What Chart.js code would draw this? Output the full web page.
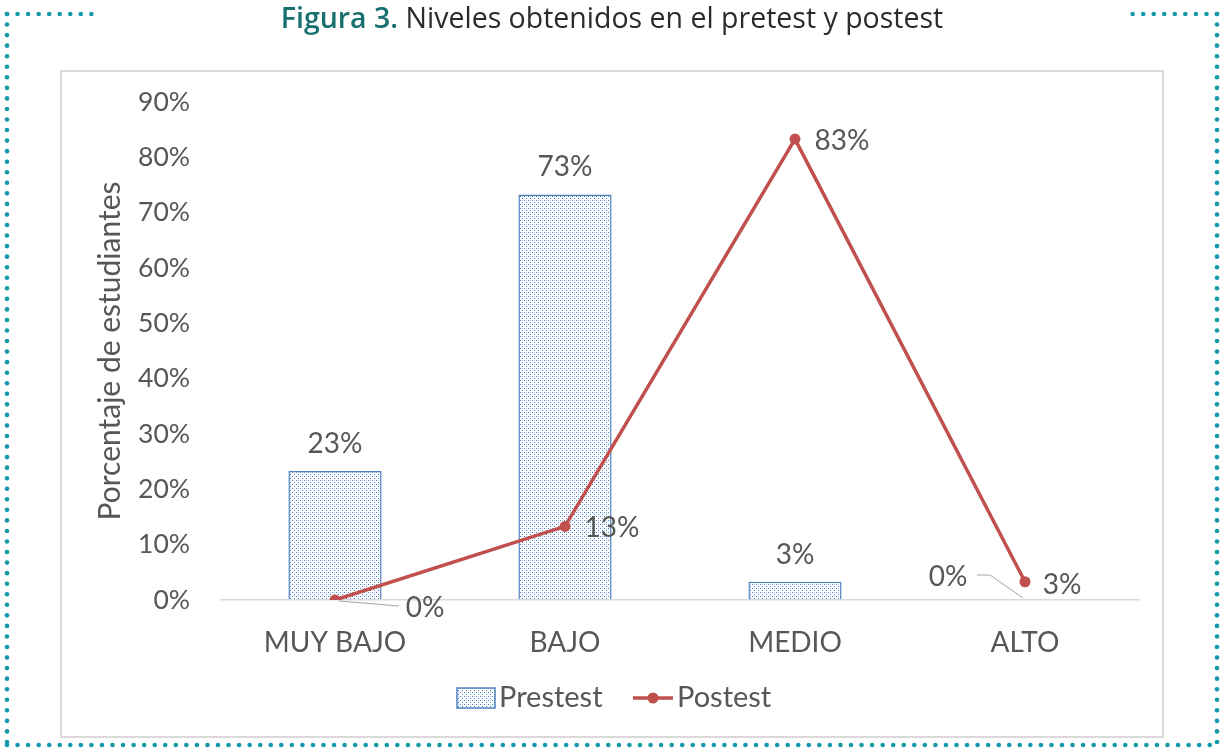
<!DOCTYPE html>
<html>
<head>
<meta charset="utf-8">
<script src="https://cdn.jsdelivr.net/npm/chart.js@4"></script>
<style>
  html, body { margin: 0; padding: 0; background: #fff; }
  #wrap { width: 1225px; height: 752px; }
</style>
</head>
<body>
<div id="wrap"><canvas id="chart" width="1225" height="752"></canvas></div>
<script>
const categories = ['MUY BAJO', 'BAJO', 'MEDIO', 'ALTO'];
const pretest = [23.3, 73.3, 3.3, 0];
const postest = [0, 13.3, 83.3, 3.3];
const yTicks = [0, 10, 20, 30, 40, 50, 60, 70, 80, 90];

const FONT = 'Lato, "Open Sans", sans-serif';
const GREY = '#575757';
const RED = '#C0504D';
const BLUE = '#4F81BD';

// patrón punteado tipo Excel
function makePattern() {
    const c = document.createElement('canvas');
    c.width = 4; c.height = 4;
    const g = c.getContext('2d');
    g.fillStyle = '#ffffff';
    g.fillRect(0, 0, 4, 4);
    g.fillStyle = '#4A80CC';
    g.fillRect(0, 0, 1, 1);
    g.fillRect(2, 2, 1, 1);
    g.fillStyle = '#B8CFEE';
    g.fillRect(2, 0, 1, 1);
    return g.createPattern(c, 'repeat');
}
const ctx = document.getElementById('chart').getContext('2d');
const dots = makePattern();

// desplazamientos de las etiquetas (x, y) respecto al punto
const barLabelOffsets = [[0, -27], [0, -27], [0, -27], [-77, -23]];
const lineLabelOffsets = [[90, 8], [47, 2], [47, 2], [37, 3]];

const framePlugin = {
    id: 'frame',
    beforeDraw(chart) {
        const c = chart.ctx;
        c.save();
        c.fillStyle = '#fff';
        c.fillRect(0, 0, chart.width, chart.height);
        // marco punteado
        c.fillStyle = '#1499A8';
        const dot = (x, y) => { c.beginPath(); c.arc(x, y, 2.3, 0, Math.PI * 2); c.fill(); };
        const step = 10.55;
        for (let x = 7; x <= 94; x += step) dot(x, 14);
        for (let x = 1217; x >= 1131; x -= step) dot(x, 14);
        for (let y = 14; y <= 746; y += step) { dot(7, y); dot(1217, y); }
        for (let x = 7; x <= 1218; x += step) dot(x, 745);
        // caja gris
        c.strokeStyle = '#D9D9D9';
        c.lineWidth = 2;
        c.strokeRect(61, 71, 1102, 666);
        // título
        const t1 = 'Figura 3. ';
        const t2 = 'Niveles obtenidos en el pretest y postest';
        c.font = '600 28.5px "Open Sans", sans-serif';
        const w1 = c.measureText(t1).width;
        c.font = '28.5px "Open Sans", sans-serif';
        const w2 = c.measureText(t2).width;
        const x0 = 612 - (w1 + w2) / 2;
        c.textBaseline = 'alphabetic';
        c.textAlign = 'left';
        c.font = '600 28.5px "Open Sans", sans-serif';
        c.fillStyle = '#17706F';
        c.fillText(t1, x0, 28);
        c.font = '28.5px "Open Sans", sans-serif';
        c.fillStyle = '#2B2B2B';
        c.fillText(t2, x0 + w1, 28);
        c.restore();
    },
    afterDatasetsDraw(chart) {
        const c = chart.ctx;
        c.save();
        c.font = '28px ' + FONT;
        c.fillStyle = GREY;
        c.textAlign = 'center';
        c.textBaseline = 'middle';
        const barMeta = chart.getDatasetMeta(0);
        barMeta.data.forEach((el, i) => {
            const [dx, dy] = barLabelOffsets[i];
            const lx = el.x + dx, ly = el.y + dy;
            if (dx !== 0) {
                c.strokeStyle = '#A6A6A6';
                c.lineWidth = 1;
                c.beginPath();
                c.moveTo(lx + 29, ly - 2);
                c.lineTo(lx + 42, ly - 2);
                c.lineTo(el.x - 2, el.y - 2);
                c.stroke();
            }
            c.fillText(Math.round(pretest[i]) + '%', lx, ly);
        });
        const lineMeta = chart.getDatasetMeta(1);
        lineMeta.data.forEach((el, i) => {
            const [dx, dy] = lineLabelOffsets[i];
            const lx = el.x + dx, ly = el.y + dy;
            if (i === 0) {
                c.strokeStyle = '#A6A6A6';
                c.lineWidth = 1;
                c.beginPath();
                c.moveTo(el.x + 4, el.y + 1);
                c.lineTo(lx - 26, ly - 2);
                c.stroke();
            }
            c.fillText(Math.round(postest[i]) + '%', lx, ly);
        });
        c.restore();
    },
    afterDraw(chart) {
        // leyenda estilo Excel
        const c = chart.ctx;
        c.save();
        const y = 698;
        c.fillStyle = dots;
        c.fillRect(457, y - 10, 38, 20);
        c.strokeStyle = BLUE;
        c.lineWidth = 1.5;
        c.strokeRect(457, y - 10, 38, 20);
        c.font = '29px ' + FONT;
        c.fillStyle = GREY;
        c.textAlign = 'left';
        c.textBaseline = 'middle';
        c.fillText('Prestest', 499, y);
        c.strokeStyle = RED;
        c.lineWidth = 3.5;
        c.beginPath();
        c.moveTo(633, y); c.lineTo(673, y); c.stroke();
        c.fillStyle = RED;
        c.beginPath(); c.arc(653, y, 5.5, 0, Math.PI * 2); c.fill();
        c.fillStyle = GREY;
        c.fillText('Postest', 677, y);
        c.restore();
    }
};

new Chart(ctx, {
    data: {
        labels: categories,
        datasets: [
            {
                type: 'bar',
                label: 'Prestest',
                data: pretest,
                backgroundColor: dots,
                borderColor: BLUE,
                borderWidth: 1.5,
                categoryPercentage: 1,
                barPercentage: 0.405,
                order: 2
            },
            {
                type: 'line',
                label: 'Postest',
                data: postest,
                borderColor: RED,
                backgroundColor: RED,
                borderWidth: 3.5,
                pointRadius: 5.5,
                pointBackgroundColor: RED,
                pointBorderWidth: 0,
                tension: 0,
                order: 1
            }
        ]
    },
    options: {
        responsive: false,
        animation: false,
        layout: { padding: { left: 90, right: 85, top: 102, bottom: 82 } },
        plugins: {
            legend: { display: false },
            tooltip: { enabled: false }
        },
        scales: {
            x: {
                grid: { display: false, drawTicks: false },
                border: { display: false },
                ticks: { color: GREY, font: { family: FONT, size: 28 }, padding: 26 },
                afterFit(scale) { scale.height = 70; }
            },
            y: {
                min: 0,
                max: 90,
                afterBuildTicks(scale) { scale.ticks = yTicks.map(v => ({ value: v })); },
                grid: {
                    drawTicks: false,
                    color: c => c.tick && c.tick.value === 0 ? '#D9D9D9' : 'rgba(0,0,0,0)',
                    lineWidth: 1.5
                },
                border: { display: false },
                ticks: {
                    color: GREY,
                    font: { family: FONT, size: 26.5 },
                    padding: 30,
                    callback: v => v + '%'
                },
                title: {
                    display: true,
                    text: 'Porcentaje de estudiantes',
                    color: GREY,
                    font: { family: FONT, size: 30 },
                    padding: 2
                },
                afterFit(scale) { scale.width = 130; }
            }
        }
    },
    plugins: [framePlugin]
});
</script>
</body>
</html>
